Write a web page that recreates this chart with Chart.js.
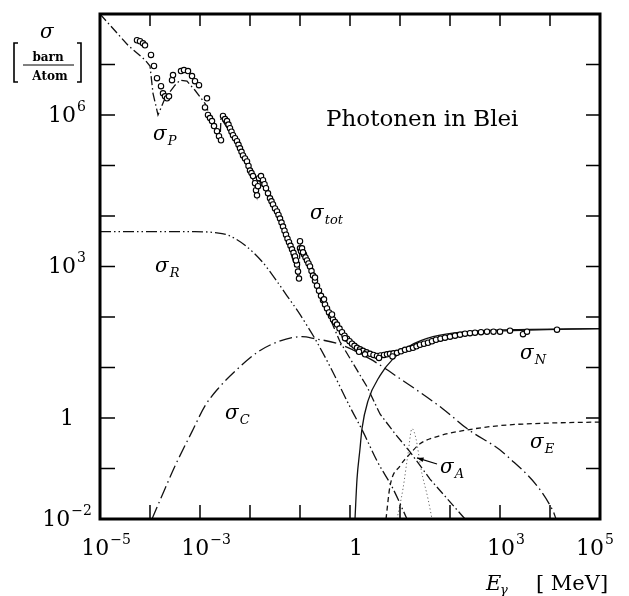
<!DOCTYPE html>
<html lang="de">
<head>
<meta charset="utf-8"/>
<title>Photonen in Blei</title>
<style>
  body, html {
    margin: 0;
    padding: 0;
    background: #fff;
  }
  #wrap {
    width: 629px;
    height: 596px;
    position: relative;
  }
</style>
</head>
<body>
<div id="wrap"><canvas id="chart"></canvas></div>
<script src="https://cdn.jsdelivr.net/npm/chart.js"></script>
<script>
  // Wirkungsquerschnitte fuer Blei, Paare [log10(E/MeV), log10(sigma/(barn/Atom))]
  const sigTotMeas = [
    [-4.26, 7.48], [-4.20, 7.46], [-4.14, 7.42], [-4.10, 7.38], [-3.98, 7.19], [-3.92, 6.97],
    [-3.86, 6.73], [-3.78, 6.57], [-3.74, 6.43], [-3.70, 6.37], [-3.66, 6.33], [-3.62, 6.37],
    [-3.56, 6.69], [-3.54, 6.79], [-3.38, 6.87], [-3.32, 6.89], [-3.24, 6.87], [-3.16, 6.77],
    [-3.10, 6.67], [-3.02, 6.59], [-2.86, 6.33], [-2.90, 6.15], [-2.84, 6.00], [-2.80, 5.94],
    [-2.76, 5.88], [-2.72, 5.78], [-2.66, 5.68], [-2.62, 5.58], [-2.58, 5.50], [-2.54, 5.98],
    [-2.50, 5.92], [-2.46, 5.88], [-2.43, 5.81], [-2.40, 5.74], [-2.37, 5.67], [-2.34, 5.60],
    [-2.30, 5.54], [-2.26, 5.48], [-2.23, 5.41], [-2.20, 5.34], [-2.17, 5.27], [-2.14, 5.20],
    [-2.10, 5.14], [-2.06, 5.08], [-2.03, 4.99], [-2.00, 4.90], [-1.97, 4.85], [-1.94, 4.79],
    [-1.90, 4.65], [-1.88, 4.51], [-1.86, 4.41], [-1.84, 4.59], [-1.82, 4.75], [-1.78, 4.79],
    [-1.74, 4.71], [-1.71, 4.63], [-1.68, 4.55], [-1.64, 4.45], [-1.60, 4.35], [-1.57, 4.29],
    [-1.54, 4.23], [-1.50, 4.15], [-1.46, 4.09], [-1.43, 4.02], [-1.40, 3.95], [-1.37, 3.87],
    [-1.34, 3.79], [-1.31, 3.71], [-1.28, 3.63], [-1.25, 3.55], [-1.22, 3.48], [-1.19, 3.41],
    [-1.16, 3.34], [-1.13, 3.27], [-1.10, 3.20], [-1.06, 3.04], [-1.04, 2.90], [-1.02, 2.76],
    [-1.00, 3.36], [-1.00, 3.50], [-0.98, 3.30], [-0.96, 3.36], [-0.92, 3.24], [-0.89, 3.18],
    [-0.86, 3.12], [-0.83, 3.06], [-0.80, 3.00], [-0.77, 2.91], [-0.74, 2.82], [-0.70, 2.72],
    [-0.66, 2.62], [-0.62, 2.52], [-0.58, 2.42], [-0.54, 2.33], [-0.50, 2.25], [-0.46, 2.17],
    [-0.42, 2.09], [-0.38, 2.02], [-0.34, 1.95], [-0.30, 1.90], [-0.26, 1.85], [-0.21, 1.77],
    [-0.16, 1.70], [-0.11, 1.63], [-0.06, 1.57], [-0.01, 1.52], [0.04, 1.47], [0.09, 1.43],
    [0.14, 1.39], [0.20, 1.36], [0.26, 1.33], [0.33, 1.30], [0.40, 1.27], [0.47, 1.25],
    [0.54, 1.23], [0.61, 1.24], [0.68, 1.25], [0.74, 1.26], [0.80, 1.27], [0.87, 1.28],
    [0.94, 1.29], [1.02, 1.32], [1.10, 1.35], [1.18, 1.37], [1.26, 1.39], [1.33, 1.42],
    [1.40, 1.45], [1.48, 1.47], [1.56, 1.49], [1.64, 1.52], [1.72, 1.55], [1.81, 1.57],
    [1.90, 1.59], [2.00, 1.61], [2.10, 1.63], [2.20, 1.65], [2.30, 1.67], [2.40, 1.68],
    [2.50, 1.69], [2.62, 1.70], [2.74, 1.71], [2.87, 1.71], [3.00, 1.71], [3.20, 1.73],
    [3.46, 1.66], [3.54, 1.71], [4.14, 1.75],
    [-0.70, 2.78], [-0.52, 2.35], [-0.36, 2.05], [0.30, 1.26], [0.58, 1.19], [0.85, 1.22],
    [-1.08, 3.12], [-0.94, 3.28], [-0.10, 1.58], [0.18, 1.31]
  ];
  const sigTot = [
    [-0.66, 2.56], [-0.40, 2.03], [-0.06, 1.57], [0.26, 1.33], [0.60, 1.23], [0.94, 1.27],
    [1.26, 1.37], [1.60, 1.47], [1.94, 1.57], [2.26, 1.65], [2.60, 1.71], [3.26, 1.73],
    [3.94, 1.75], [5.00, 1.77]
  ];
  const sigP = [
    [-5.00, 8.00], [-4.44, 7.38], [-4.10, 7.09], [-4.00, 6.97], [-3.94, 6.43], [-3.84, 6.00],
    [-3.70, 6.33], [-3.50, 6.59], [-3.40, 6.69], [-3.26, 6.67], [-3.10, 6.49], [-2.90, 6.23],
    [-2.74, 5.84], [-2.60, 5.50], [-2.58, 5.94], [-2.30, 5.50], [-2.00, 4.88], [-1.90, 4.61],
    [-1.86, 4.39], [-1.82, 4.71], [-1.60, 4.31], [-1.30, 3.65], [-1.04, 2.80], [-1.02, 2.72],
    [-1.00, 3.46], [-0.80, 2.96], [-0.60, 2.46], [-0.40, 1.97], [-0.20, 1.51], [0.34, 0.62],
    [0.60, 0.08], [0.90, -0.31], [1.20, -0.67], [1.60, -1.21], [2.30, -2.00]
  ];
  const sigR = [
    [-5.00, 3.69], [-3.10, 3.69], [-2.70, 3.67], [-2.44, 3.62], [-2.10, 3.42], [-1.76, 3.10],
    [-1.50, 2.76], [-1.26, 2.42], [-1.04, 2.11], [-0.86, 1.83], [-0.70, 1.57], [-0.40, 1.02],
    [0.00, 0.22], [0.26, -0.27], [0.54, -0.85], [0.86, -1.40], [1.14, -2.00]
  ];
  const sigC = [
    [-3.96, -2.00], [-3.70, -1.40], [-3.50, -0.95], [-3.16, -0.27], [-2.90, 0.24], [-2.64, 0.58],
    [-2.24, 0.98], [-1.84, 1.31], [-1.44, 1.51], [-0.96, 1.61], [-0.70, 1.57], [-0.24, 1.47],
    [0.40, 1.17], [1.00, 0.78], [1.86, 0.18], [2.34, -0.21], [3.14, -0.75], [4.06, -1.84],
    [4.12, -2.00]
  ];
  const sigN = [
    [0.10, -2.00], [0.14, -1.21], [0.20, -0.61], [0.24, -0.21], [0.36, 0.34], [0.60, 0.84],
    [0.86, 1.17], [1.20, 1.43], [1.66, 1.61], [2.34, 1.71], [3.26, 1.75], [5.00, 1.77]
  ];
  const sigE = [
    [0.72, -2.00], [0.80, -1.35], [1.00, -0.95], [1.20, -0.71], [1.40, -0.51], [1.80, -0.35],
    [2.26, -0.25], [3.00, -0.15], [4.00, -0.10], [5.00, -0.08]
  ];
  const sigA = [
    [0.94, -2.00], [1.06, -1.40], [1.16, -0.71], [1.24, -0.21], [1.32, -0.41], [1.42, -1.01],
    [1.56, -1.60], [1.64, -2.00]
  ];

  // Achsen: Exponenten der Dekaden und beschriftete Dekaden
  const xDecades = [-5, -4, -3, -2, -1, 0, 1, 2, 3, 4, 5];
  const yDecades = [-2, -1, 0, 1, 2, 3, 4, 5, 6, 7, 8];
  const xTickLabels = [-5, -3, 0, 3, 5];
  const yTickLabels = [-2, 0, 3, 6];

  const SERIF = '"DejaVu Serif", "Liberation Serif", serif';

  const toXY = arr => arr.map(([lx, ly]) => ({ x: Math.pow(10, lx), y: Math.pow(10, ly) }));

  function curve(data, dash, opts) {
    return Object.assign({
      data: toXY(data),
      showLine: true,
      borderColor: '#111',
      borderWidth: 1.3,
      borderDash: dash,
      pointRadius: 0,
      fill: false,
      cubicInterpolationMode: 'monotone'
    }, opts || {});
  }

  // Text mit Hochzahl: "10" + Exponent
  function powerLabel(ctx, n, cx, cy) {
    const base = n === 0 ? '1' : '10';
    const sup = n === 0 ? '' : String(n).replace('-', '\u2212');
    ctx.font = '22px ' + SERIF;
    const wb = ctx.measureText(base).width;
    ctx.font = '14px ' + SERIF;
    const ws = sup ? ctx.measureText(sup).width + 1 : 0;
    const x0 = cx - (wb + ws) / 2;
    ctx.textBaseline = 'middle';
    ctx.textAlign = 'left';
    ctx.font = '22px ' + SERIF;
    ctx.fillText(base, x0, cy);
    if (sup) {
      ctx.font = '14px ' + SERIF;
      ctx.fillText(sup, x0 + wb + 1, cy - 9);
    }
  }

  function sigmaLabel(ctx, x, y, sub) {
    ctx.textBaseline = 'alphabetic';
    ctx.textAlign = 'left';
    ctx.font = 'italic 20px ' + SERIF;
    ctx.fillText('\u03C3', x, y);
    const w = ctx.measureText('\u03C3').width;
    ctx.font = 'italic 13px ' + SERIF;
    ctx.fillText(sub, x + w + 1, y + 5);
  }

  // Beschriftung der Kurven in Datenkoordinaten
  const curveLabels = [
    { sub: 'P', at: [-3.94, 5.50] },
    { sub: 'tot', at: [-0.80, 3.95] },
    { sub: 'R', at: [-3.90, 2.90] },
    { sub: 'C', at: [-2.50, -0.02] },
    { sub: 'N', at: [3.40, 1.17] },
    { sub: 'E', at: [3.60, -0.59] },
    { sub: 'A', at: [1.80, -1.09] }
  ];

  const frame = {
    id: 'frame',
    afterDraw(chart) {
      const ctx = chart.ctx;
      const a = chart.chartArea;
      const xs = chart.scales.x;
      const ys = chart.scales.y;
      const px = v => xs.getPixelForValue(Math.pow(10, v));
      const py = v => ys.getPixelForValue(Math.pow(10, v));
      ctx.save();
      ctx.strokeStyle = '#000';
      ctx.fillStyle = '#000';

      // Rahmen
      ctx.lineWidth = 3;
      ctx.strokeRect(a.left, a.top, a.right - a.left, a.bottom - a.top);

      // Striche nach innen
      ctx.lineWidth = 1.5;
      ctx.beginPath();
      xDecades.forEach(n => {
        const x = px(n);
        ctx.moveTo(x, a.bottom); ctx.lineTo(x, a.bottom - 14);
        ctx.moveTo(x, a.top); ctx.lineTo(x, a.top + 12);
      });
      yDecades.forEach(n => {
        const y = py(n);
        ctx.moveTo(a.left, y); ctx.lineTo(a.left + 15, y);
        ctx.moveTo(a.right, y); ctx.lineTo(a.right - 14, y);
      });
      ctx.stroke();

      // Achsenbeschriftung
      xTickLabels.forEach(n => {
        let cx = px(n) + 6;
        if (n === 5) cx = px(n) - 5;
        powerLabel(ctx, n, cx, a.bottom + 30);
      });
      yTickLabels.forEach(n => {
        powerLabel(ctx, n, 67, py(n) + 1);
      });

      // Einheit der y-Achse
      ctx.textBaseline = 'alphabetic';
      ctx.textAlign = 'left';
      ctx.font = 'italic 20px ' + SERIF;
      ctx.fillText('\u03C3', 40, 38);
      ctx.lineWidth = 1.6;
      ctx.beginPath();
      ctx.moveTo(18, 43); ctx.lineTo(14, 43); ctx.lineTo(14, 82); ctx.lineTo(18, 82);
      ctx.moveTo(77, 43); ctx.lineTo(81, 43); ctx.lineTo(81, 82); ctx.lineTo(77, 82);
      ctx.stroke();
      ctx.lineWidth = 1;
      ctx.beginPath();
      ctx.moveTo(23, 65); ctx.lineTo(74, 65);
      ctx.stroke();
      ctx.textAlign = 'center';
      ctx.font = 'bold 12px ' + SERIF;
      ctx.fillText('barn', 48, 61);
      ctx.fillText('Atom', 50, 80);

      // Titel der x-Achse
      ctx.textAlign = 'left';
      ctx.font = 'italic 21px ' + SERIF;
      ctx.fillText('E', 486, 590);
      ctx.font = 'italic 13px ' + SERIF;
      ctx.fillText('\u03B3', 500, 594);
      ctx.font = '21px ' + SERIF;
      ctx.fillText('[ MeV]', 536, 590);

      // Titel im Diagramm
      ctx.font = '23px ' + SERIF;
      ctx.fillText('Photonen in Blei', px(-0.48), py(5.78));

      // Kurvennamen
      curveLabels.forEach(l => sigmaLabel(ctx, px(l.at[0]), py(l.at[1]), l.sub));

      // Pfeil zu sigma_A
      const ax0 = px(1.74), ay0 = py(-0.91), ax1 = px(1.34), ay1 = py(-0.79);
      ctx.lineWidth = 1.2;
      ctx.beginPath();
      ctx.moveTo(ax0, ay0); ctx.lineTo(ax1, ay1);
      ctx.stroke();
      const ang = Math.atan2(ay1 - ay0, ax1 - ax0);
      ctx.beginPath();
      ctx.moveTo(ax1, ay1);
      ctx.lineTo(ax1 - 7 * Math.cos(ang - 0.35), ay1 - 7 * Math.sin(ang - 0.35));
      ctx.lineTo(ax1 - 7 * Math.cos(ang + 0.35), ay1 - 7 * Math.sin(ang + 0.35));
      ctx.closePath();
      ctx.fill();

      ctx.restore();
    }
  };

  new Chart(document.getElementById('chart'), {
    type: 'scatter',
    data: {
      datasets: [
        {
          data: toXY(sigTotMeas),
          showLine: false,
          pointRadius: 2.7,
          pointBorderWidth: 1.1,
          pointBorderColor: '#000',
          pointBackgroundColor: '#fff'
        },
        curve(sigTot, []),
        curve(sigP, [9, 3, 1.5, 3], { cubicInterpolationMode: 'default', tension: 0 }),
        curve(sigR, [11, 3, 1.5, 3, 1.5, 3]),
        curve(sigC, [13, 4, 1.5, 4]),
        curve(sigN, []),
        curve(sigE, [5, 3.5]),
        curve(sigA, [1.2, 2.5], { borderColor: '#666', borderWidth: 1 })
      ]
    },
    options: {
      responsive: true,
      maintainAspectRatio: false,
      animation: false,
      layout: { padding: { top: 14, right: 29, left: 0, bottom: 0 } },
      plugins: {
        legend: { display: false },
        tooltip: { enabled: false }
      },
      scales: {
        x: {
          type: 'logarithmic',
          min: 1e-5,
          max: 1e5,
          ticks: { display: false },
          grid: { display: false },
          border: { display: false },
          afterFit: s => { s.height = 77; }
        },
        y: {
          type: 'logarithmic',
          min: 1e-2,
          max: 1e8,
          ticks: { display: false },
          grid: { display: false },
          border: { display: false },
          afterFit: s => { s.width = 100; }
        }
      }
    },
    plugins: [frame]
  });
</script>
</body>
</html>
